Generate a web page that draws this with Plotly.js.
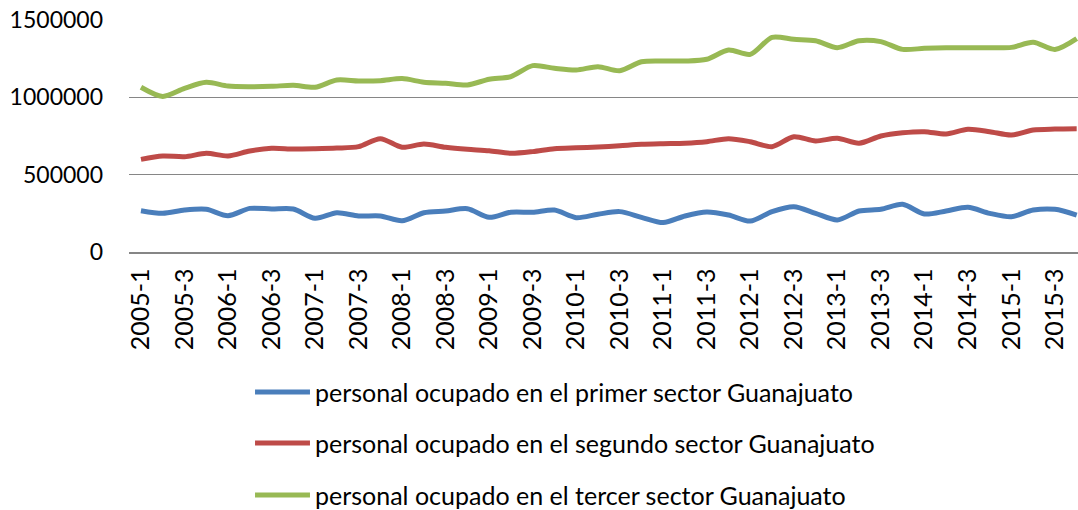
<!DOCTYPE html>
<html>
<head>
<meta charset="utf-8">
<script src="https://cdn.plot.ly/plotly-3.0.1.min.js"></script>
<style>html,body{margin:0;padding:0;background:#fff;overflow:hidden}#chart{width:1078px;height:510px}</style>
</head>
<body>
<div id="chart"></div>
<script>
var quarters = ["2005-1","2005-2","2005-3","2005-4","2006-1","2006-2","2006-3","2006-4",
"2007-1","2007-2","2007-3","2007-4","2008-1","2008-2","2008-3","2008-4",
"2009-1","2009-2","2009-3","2009-4","2010-1","2010-2","2010-3","2010-4",
"2011-1","2011-2","2011-3","2011-4","2012-1","2012-2","2012-3","2012-4",
"2013-1","2013-2","2013-3","2013-4","2014-1","2014-2","2014-3","2014-4",
"2015-1","2015-2","2015-3","2015-4"];

var tickLabels = ["2005-1","2005-3","2006-1","2006-3","2007-1","2007-3","2008-1","2008-3",
"2009-1","2009-3","2010-1","2010-3","2011-1","2011-3","2012-1","2012-3",
"2013-1","2013-3","2014-1","2014-3","2015-1","2015-3"];

var primerSector = [267000,250000,271000,276000,235000,282000,278000,278000,
218000,254000,233000,233000,202000,254000,265000,280000,
224000,257000,257000,271000,222000,244000,261000,224000,
190000,233000,259000,239000,200000,261000,293000,250000,
207000,265000,276000,308000,246000,265000,289000,250000,
228000,271000,276000,239000];

var segundoSector = [599000,621000,616000,638000,621000,653000,670000,666000,
668000,672000,681000,733000,677000,698000,677000,664000,
655000,638000,649000,668000,674000,679000,687000,696000,
700000,703000,713000,733000,713000,681000,745000,718000,
735000,703000,750000,771000,778000,763000,793000,778000,
756000,789000,795000,797000];

var tercerSector = [1065000,1006000,1058000,1097000,1073000,1069000,1071000,1078000,
1065000,1112000,1106000,1108000,1121000,1098000,1091000,1080000,
1117000,1134000,1205000,1188000,1177000,1198000,1172000,1230000,
1235000,1235000,1246000,1306000,1278000,1388000,1375000,1366000,
1321000,1366000,1360000,1310000,1317000,1321000,1321000,1321000,
1323000,1356000,1310000,1380000];

var seriesNames = ["personal ocupado en el primer sector Guanajuato",
"personal ocupado en el segundo sector Guanajuato",
"personal ocupado en el tercer sector Guanajuato"];

var yTicks = [0, 500000, 1000000, 1500000];

var colors = ["#4A7EBB", "#BE4B48", "#98B954"];
var allSeries = [primerSector, segundoSector, tercerSector];

var traces = allSeries.map(function(s, k){
  return {
    x: quarters, y: s, type: "scatter", mode: "lines", name: seriesNames[k],
    line: {color: colors[k], width: 5, shape: "spline", smoothing: 0.8},
    showlegend: false, hoverinfo: "skip"
  };
});

var FONT = "Lato, 'Open Sans', sans-serif";
var legY = [-0.603, -0.823, -1.047];
var shapes = [], annotations = [];
seriesNames.forEach(function(n, k){
  shapes.push({type: "line", xref: "paper", yref: "paper", x0: 0.1328, x1: 0.1907, y0: legY[k], y1: legY[k],
    line: {color: colors[k], width: 5}});
  annotations.push({xref: "paper", yref: "paper", x: 0.1939, y: legY[k], xanchor: "left", yanchor: "middle",
    text: n, showarrow: false, font: {family: FONT, size: 25, color: "#000"}});
});

var layout = {
  width: 1078, height: 510,
  margin: {l: 129, r: 0, t: 20, b: 258, pad: 0},
  paper_bgcolor: "#fff", plot_bgcolor: "#fff",
  font: {family: FONT, color: "#000"},
  xaxis: {
    type: "category", range: [-0.55, 43.06],
    tickmode: "array", tickvals: tickLabels, ticktext: tickLabels,
    tickangle: -90, tickfont: {family: FONT, size: 25, color: "#000"},
    showgrid: false, showline: true, linecolor: "#868686", linewidth: 1.5,
    ticks: "", ticklabelstandoff: 5, zeroline: false
  },
  yaxis: {
    range: [0, 1500000], tickmode: "array", tickvals: yTicks, ticktext: yTicks.map(String),
    tickfont: {family: FONT, size: 23, color: "#000"},
    showgrid: true, gridcolor: "#868686", gridwidth: 1.5,
    zeroline: false, showline: false, ticks: "", ticklabelstandoff: 25
  },
  shapes: shapes,
  annotations: annotations,
  showlegend: false
};

Plotly.newPlot("chart", traces, layout, {staticPlot: true, displayModeBar: false});
</script>
</body>
</html>
